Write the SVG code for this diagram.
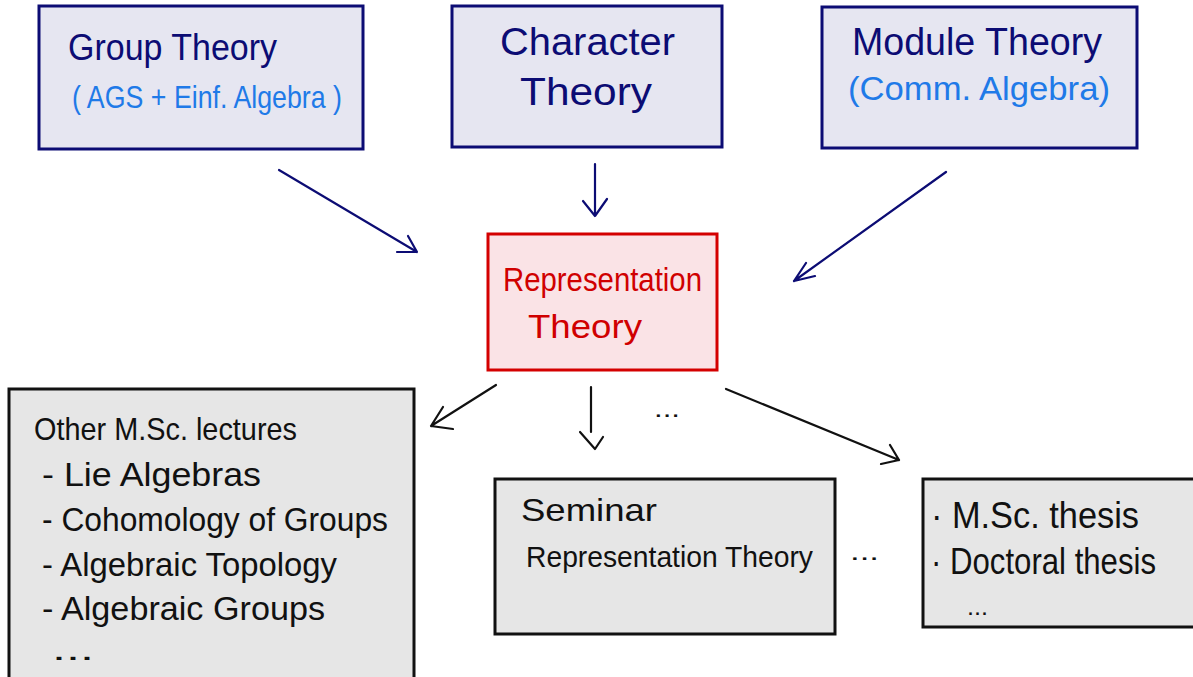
<svg xmlns="http://www.w3.org/2000/svg" width="1193" height="677" viewBox="0 0 1193 677">
<style>
  .txt { font-family: "Liberation Sans", "DejaVu Sans", sans-serif; }
  .navy { fill: #0c0c74; }
  .blue { fill: #1f7ae8; }
  .red { fill: #d00000; }
  .black { fill: #111111; }
  .boxB { fill: #e6e6f1; stroke: #0c0c74; stroke-width: 3; }
  .boxR { fill: #fae3e6; stroke: #d40000; stroke-width: 3; }
  .boxG { fill: #e6e6e6; stroke: #111111; stroke-width: 3; }
  .cB { fill: none; stroke: #0c0c74; stroke-width: 2.2; stroke-linecap: round; stroke-linejoin: round; }
  .cK { fill: none; stroke: #111111; stroke-width: 2.2; stroke-linecap: round; stroke-linejoin: round; }
</style>
<rect width="1193" height="677" fill="#ffffff"/>

<g id="group-theory">
  <rect class="boxB" x="39" y="6" width="324" height="143"/>
  <text class="txt navy" x="68" y="60" font-size="36" textLength="209" lengthAdjust="spacingAndGlyphs">Group Theory</text>
  <text class="txt blue" x="72" y="108" font-size="32" textLength="270" lengthAdjust="spacingAndGlyphs">( AGS + Einf. Algebra )</text>
</g>

<g id="character-theory">
  <rect class="boxB" x="452" y="6" width="270" height="141"/>
  <text class="txt navy" x="500" y="55" font-size="38" textLength="175" lengthAdjust="spacingAndGlyphs">Character</text>
  <text class="txt navy" x="520" y="105" font-size="38" textLength="132" lengthAdjust="spacingAndGlyphs">Theory</text>
</g>

<g id="module-theory">
  <rect class="boxB" x="822" y="7" width="315" height="141"/>
  <text class="txt navy" x="852" y="55" font-size="38" textLength="250" lengthAdjust="spacingAndGlyphs">Module Theory</text>
  <text class="txt blue" x="848" y="100" font-size="34" textLength="262" lengthAdjust="spacingAndGlyphs">(Comm. Algebra)</text>
</g>

<g id="representation-theory">
  <rect class="boxR" x="488" y="234" width="229" height="136"/>
  <text class="txt red" x="503" y="291" font-size="34" textLength="199" lengthAdjust="spacingAndGlyphs">Representation</text>
  <text class="txt red" x="528" y="338" font-size="34" textLength="114" lengthAdjust="spacingAndGlyphs">Theory</text>
</g>

<g id="other-lectures">
  <rect class="boxG" x="9" y="389" width="405" height="300"/>
  <text class="txt black" x="34" y="440" font-size="32" textLength="263" lengthAdjust="spacingAndGlyphs">Other M.Sc. lectures</text>
  <text class="txt black" x="42" y="486" font-size="34" textLength="219" lengthAdjust="spacingAndGlyphs">-  Lie Algebras</text>
  <text class="txt black" x="42" y="531" font-size="34" textLength="346" lengthAdjust="spacingAndGlyphs">-  Cohomology of Groups</text>
  <text class="txt black" x="42" y="576" font-size="34" textLength="295" lengthAdjust="spacingAndGlyphs">-  Algebraic Topology</text>
  <text class="txt black" x="42" y="620" font-size="34" textLength="283" lengthAdjust="spacingAndGlyphs">-  Algebraic Groups</text>
  <text class="txt black" x="52" y="660" font-size="30" textLength="42" lengthAdjust="spacingAndGlyphs">...</text>
</g>

<g id="seminar">
  <rect class="boxG" x="495" y="479" width="340" height="155"/>
  <text class="txt black" x="521" y="521" font-size="32" textLength="136" lengthAdjust="spacingAndGlyphs">Seminar</text>
  <text class="txt black" x="526" y="567" font-size="30" textLength="287" lengthAdjust="spacingAndGlyphs">Representation Theory</text>
</g>

<g id="thesis">
  <rect class="boxG" x="923" y="479" width="290" height="148"/>
  <text class="txt black" x="931" y="528" font-size="36" textLength="208" lengthAdjust="spacingAndGlyphs">· M.Sc. thesis</text>
  <text class="txt black" x="931" y="574" font-size="36" textLength="225" lengthAdjust="spacingAndGlyphs">· Doctoral thesis</text>
  <text class="txt black" x="967" y="615" font-size="24" textLength="21" lengthAdjust="spacingAndGlyphs">...</text>
</g>

<g id="connectors">
  <path class="cB" d="M279 170 L417 252 M397 252 L417 252 L408 236"/>
  <path class="cB" d="M595 164 L595 216 M583 201 L595 216 L607 199"/>
  <path class="cB" d="M946 172 L794 281 M806 263 L794 281 L815 276"/>
  <path class="cK" d="M496 385 L431 426 M443 407 L431 426 L453 429"/>
  <path class="cK" d="M591 387 L591 432 M580 432 L595 449 L603 437"/>
  <path class="cK" d="M726 389 L899 460 M890 445 L899 460 L881 464"/>
  <text class="txt black" x="654" y="417" font-size="24" textLength="26" lengthAdjust="spacingAndGlyphs">...</text>
  <text class="txt black" x="850" y="560" font-size="24" textLength="29" lengthAdjust="spacingAndGlyphs">...</text>
</g>
</svg>
